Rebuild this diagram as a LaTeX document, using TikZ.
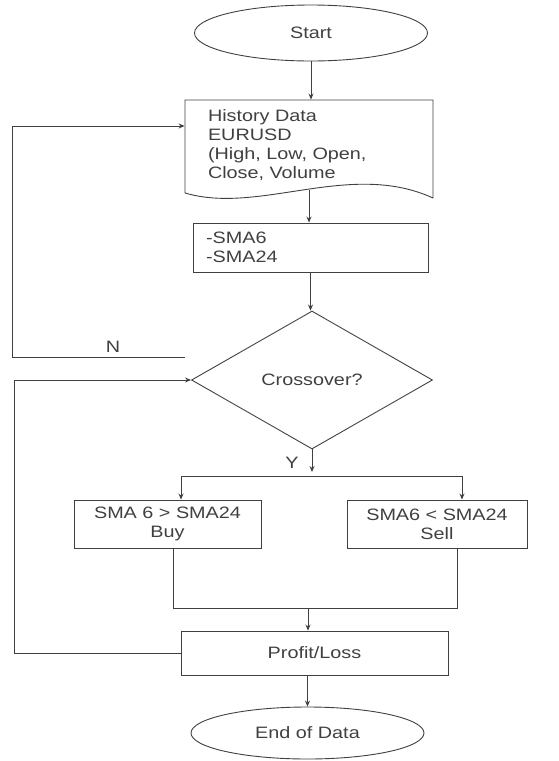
\documentclass[tikz,border=0pt]{standalone}
\usepackage{fontspec}
\setmainfont{Liberation Sans}[FakeStretch=1.2]
\usetikzlibrary{arrows.meta,shapes.geometric}

\begin{document}
\begin{tikzpicture}[x=1pt,y=-1pt,>={Stealth[length=6pt,width=5pt]},line width=0.9pt,color=black!75,
  every node/.style={font=\fontsize{16.5}{19}\selectfont},
  term/.style={ellipse,draw,minimum width=233pt,minimum height=56pt,inner sep=0pt},
  box/.style={rectangle,draw,inner sep=0pt},
  decide/.style={diamond,draw,minimum width=241pt,minimum height=138pt,inner sep=0pt},
  lbl/.style={inner sep=0pt}]
\useasboundingbox (0,0) rectangle (559,761);
\node[term] (start) at (311,33) {Start};
\draw (185,100) -- (433,100) -- (433,198) .. controls (350,160) and (260,215) .. (185,193) -- cycle;
\node[box,draw=none,minimum width=248pt,minimum height=90pt,text width=202pt,align=left] (hist) at (309,145) {History Data\\EURUSD\\(High, Low, Open,\\Close, Volume};
\node[box,minimum width=235pt,minimum height=49pt,text width=209pt,align=left] (sma) at (310.5,247.5) {-SMA6\\-SMA24};
\node[decide] (cross) at (312,380) {Crossover?};
\node[box,minimum width=187pt,minimum height=48pt,align=center] (buy) at (167.5,524) {SMA 6 > SMA24\\Buy};
\node[box,minimum width=180pt,minimum height=48pt,align=center] (sell) at (437,524) {SMA6 < SMA24\\Sell};
\node[box,minimum width=267pt,minimum height=44pt] (pl) at (314.5,653) {Profit/Loss};
\node[term,minimum height=52pt] (end) at (307.5,733) {End of Data};
\coordinate (ysplit) at (312,476);
\coordinate (bl) at (181,476);
\coordinate (br) at (462,476);
\coordinate (jl) at (173,608);
\coordinate (jr) at (457,608);
\coordinate (join) at (308,608);
\coordinate (nstub) at (185,357);
\coordinate (nleft) at (12,357);
\coordinate (pleft) at (14,653);
\draw[->] (start.south) -- (start.south |- hist.north);
\draw[->] (hist.south) -- (hist.south |- sma.north);
\draw[->] (sma.south) -- (sma.south |- cross.north);
\draw[->] (cross.south) -- ([yshift=4pt]ysplit);
\draw (bl) -- (br);
\draw[->] (bl) -- (bl |- buy.north);
\draw[->] (br) -- (br |- sell.north);
\draw (jl |- buy.south) -- (jl) -- (jr) -- (jr |- sell.south);
\draw[->] (join) -- (join |- pl.north);
\draw[->] (end.north |- pl.south) -- (end.north);
\draw[->] (nstub) -- (nleft) |- ([yshift=19pt]hist.west);
\draw[->] (pl.west) -- (pleft) |- (cross.west);
\node[lbl] (n) at (113,347) {N};
\node[lbl] (y) at (292,463) {Y};
\end{tikzpicture}
\end{document}
